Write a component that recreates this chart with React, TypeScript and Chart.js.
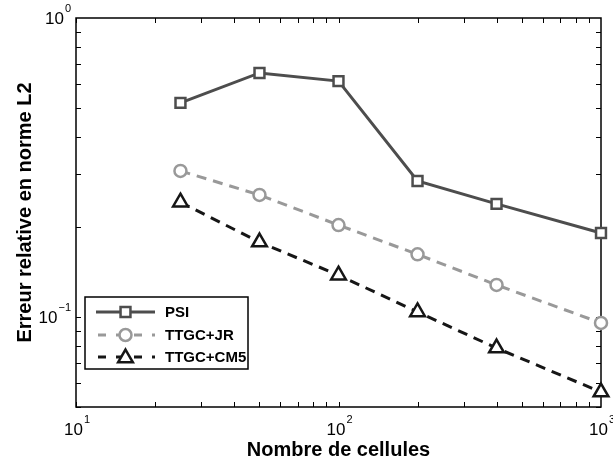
import React, { useEffect, useRef } from 'react';
import { Chart, registerables } from 'chart.js';

Chart.register(...registerables);

// ---- data ----
const cells = [25, 50, 100, 200, 400, 1000];
const psi = [0.52, 0.655, 0.615, 0.285, 0.239, 0.191];
const ttgcJR = [0.308, 0.256, 0.203, 0.162, 0.128, 0.0955];
const ttgcCM5 = [0.242, 0.178, 0.138, 0.104, 0.0787, 0.0561];
const seriesNames = ['PSI', 'TTGC+JR', 'TTGC+CM5'];
const xMajorTicks = [10, 100, 1000];
const xMajorExp = ['1', '2', '3'];
const yMajorTicks = [0.1, 1];
const yMajorExp = ['\u22121', '0'];
const xTitle = 'Nombre de cellules';
const yTitle = 'Erreur relative en norme L2';

const FONT = '"Liberation Sans", Arial, Helvetica, sans-serif';

const styles = [
  { color: '#4d4d4d', dash: [] as number[], shape: 'rect', r: 7, lw: 3 },
  { color: '#999999', dash: [10, 7], shape: 'circle', r: 6, lw: 3 },
  { color: '#161616', dash: [10, 7], shape: 'triangle', r: 8.5, lw: 3 },
];

function minorTicks(lo: number, hi: number): number[] {
  const out: number[] = [];
  for (let d = Math.pow(10, Math.floor(Math.log10(lo))); d < hi; d *= 10) {
    for (let k = 1; k < 10; k++) {
      const v = d * k;
      if (v >= lo - 1e-12 && v <= hi + 1e-12) out.push(v);
    }
  }
  return out;
}

function drawMarker(ctx: CanvasRenderingContext2D, shape: string, x: number, y: number, r: number) {
  ctx.beginPath();
  if (shape === 'rect') {
    const s = r * Math.SQRT1_2;
    ctx.rect(x - s, y - s, 2 * s, 2 * s);
  } else if (shape === 'circle') {
    ctx.arc(x, y, r, 0, Math.PI * 2);
  } else {
    ctx.moveTo(x, y - r);
    ctx.lineTo(x + 0.866 * r, y + 0.5 * r);
    ctx.lineTo(x - 0.866 * r, y + 0.5 * r);
    ctx.closePath();
  }
  ctx.fillStyle = '#fff';
  ctx.fill();
  ctx.stroke();
}

function drawPow(ctx: CanvasRenderingContext2D, exp: string, x: number, y: number, align: 'right' | 'center') {
  ctx.font = `17px ${FONT}`;
  const wb = ctx.measureText('10').width;
  ctx.font = `11px ${FONT}`;
  const we = ctx.measureText(exp).width;
  const total = wb + we + 1;
  const left = align === 'right' ? x - total : x - total / 2;
  ctx.fillStyle = '#000';
  ctx.textAlign = 'left';
  ctx.textBaseline = 'middle';
  ctx.font = `17px ${FONT}`;
  ctx.fillText('10', left, y);
  ctx.font = `11px ${FONT}`;
  ctx.fillText(exp, left + wb + 1, y - 10);
}

const decorPlugin = {
  id: 'decor',
  beforeDatasetsDraw(chart: any) {
    const { ctx, chartArea: a, scales } = chart;
    const xs = scales.x;
    const ys = scales.y;
    ctx.save();
    ctx.strokeStyle = '#000';
    ctx.lineWidth = 1.5;
    ctx.setLineDash([]);
    ctx.strokeRect(a.left, a.top, a.right - a.left, a.bottom - a.top);
    ctx.lineWidth = 1;
    const tl = 5;
    for (const v of minorTicks(10, 1000)) {
      const px = Math.round(xs.getPixelForValue(v)) + 0.5;
      ctx.beginPath();
      ctx.moveTo(px, a.bottom);
      ctx.lineTo(px, a.bottom - tl);
      ctx.moveTo(px, a.top);
      ctx.lineTo(px, a.top + tl);
      ctx.stroke();
    }
    for (const v of minorTicks(0.05, 1)) {
      const py = Math.round(ys.getPixelForValue(v)) + 0.5;
      ctx.beginPath();
      ctx.moveTo(a.left, py);
      ctx.lineTo(a.left + tl, py);
      ctx.moveTo(a.right, py);
      ctx.lineTo(a.right - tl, py);
      ctx.stroke();
    }
    // tick labels
    xMajorTicks.forEach((v, i) => {
      const px = xs.getPixelForValue(v);
      drawPow(ctx, xMajorExp[i], px + 1, a.bottom + 23, 'center');
    });
    yMajorTicks.forEach((v, i) => {
      const py = ys.getPixelForValue(v);
      drawPow(ctx, yMajorExp[i], a.left - 5, py + 1, 'right');
    });
    // axis titles
    ctx.fillStyle = '#000';
    ctx.font = `bold 20px ${FONT}`;
    ctx.textAlign = 'center';
    ctx.textBaseline = 'alphabetic';
    ctx.fillText(xTitle, (a.left + a.right) / 2, 456);
    ctx.save();
    ctx.translate(31, (a.top + a.bottom) / 2);
    ctx.rotate(-Math.PI / 2);
    ctx.fillText(yTitle, 0, 0);
    ctx.restore();
    ctx.restore();
  },
  afterDraw(chart: any) {
    const { ctx } = chart;
    ctx.save();
    const bx = 85, by = 297, bw = 163, bh = 72;
    ctx.fillStyle = '#fff';
    ctx.fillRect(bx, by, bw, bh);
    ctx.strokeStyle = '#000';
    ctx.lineWidth = 1.5;
    ctx.setLineDash([]);
    ctx.strokeRect(bx, by, bw, bh);
    const rows = [312, 335, 357];
    seriesNames.forEach((name, i) => {
      const s = styles[i];
      const y = rows[i];
      ctx.strokeStyle = s.color;
      ctx.lineWidth = s.lw;
      ctx.setLineDash(s.dash.length ? [8, 10] : []);
      ctx.lineDashOffset = s.dash.length ? -2 : 0;
      ctx.beginPath();
      ctx.moveTo(96, y);
      ctx.lineTo(155, y);
      ctx.stroke();
      ctx.setLineDash([]);
      ctx.lineWidth = 2.5;
      drawMarker(ctx, s.shape, 125.5, y + (s.shape === 'triangle' ? 1 : 0), s.r);
      ctx.fillStyle = '#000';
      ctx.font = `bold 15px ${FONT}`;
      ctx.textAlign = 'left';
      ctx.textBaseline = 'middle';
      ctx.fillText(name, 165, y + 1);
    });
    ctx.restore();
  },
};

export default function App() {
  const ref = useRef<HTMLCanvasElement | null>(null);
  useEffect(() => {
    if (!ref.current) return;
    const series = [psi, ttgcJR, ttgcCM5];
    const chart = new Chart(ref.current, {
      type: 'line',
      data: {
        datasets: series.map((vals, i) => ({
          label: seriesNames[i],
          data: cells.map((c, j) => ({ x: c, y: vals[j] })),
          borderColor: styles[i].color,
          borderWidth: styles[i].lw,
          borderDash: styles[i].dash,
          pointStyle: styles[i].shape as any,
          pointRadius: styles[i].r,
          pointBorderWidth: 2.5,
          pointBorderColor: styles[i].color,
          pointBackgroundColor: '#fff',
          fill: false,
          tension: 0,
          clip: false as any,
        })),
      },
      options: {
        animation: false,
        responsive: false,
        events: [],
        layout: { padding: { left: 0, top: 18, right: 12, bottom: 0 } },
        plugins: { legend: { display: false }, tooltip: { enabled: false }, title: { display: false } },
        scales: {
          x: {
            type: 'logarithmic',
            min: 10,
            max: 1000,
            ticks: { display: false },
            grid: { display: false },
            border: { display: false },
            afterFit: (s: any) => { s.height = 57; },
          },
          y: {
            type: 'logarithmic',
            min: 0.05,
            max: 1,
            ticks: { display: false },
            grid: { display: false },
            border: { display: false },
            afterFit: (s: any) => { s.width = 76; },
          },
        },
      },
      plugins: [decorPlugin],
    });
    return () => chart.destroy();
  }, []);
  return (
    <div style={{ position: 'absolute', left: 0, top: 0, width: 613, height: 464, background: '#fff' }}>
      <canvas ref={ref} width={613} height={464} style={{ display: 'block' }} />
    </div>
  );
}
